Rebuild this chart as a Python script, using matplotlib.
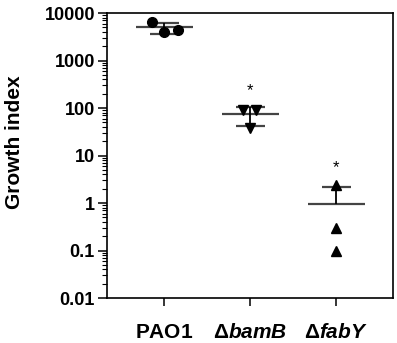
import numpy as np
import matplotlib
matplotlib.use('Agg')
import matplotlib.pyplot as plt

plt.rcParams['font.family'] = ['Liberation Sans', 'DejaVu Sans']
plt.rcParams['font.weight'] = 'bold'
plt.rcParams['mathtext.fontset'] = 'custom'
plt.rcParams['mathtext.rm'] = 'Liberation Sans:bold'
plt.rcParams['mathtext.it'] = 'Liberation Sans:bold:italic'

# data
groups = [r'$\mathrm{PAO1}$', r'$\mathrm{\Delta}\mathit{bamB}$', r'$\mathrm{\Delta}\mathit{fabY}$']
pao1 = [6500, 4000, 4400]
bamB = [92, 90, 38]
fabY = [2.4, 0.30, 0.10]
jitter = [[-0.14, 0.0, 0.16], [-0.09, 0.07, 0.0], [0.0, 0.0, 0.0]]
markers = ['o', 'v', '^']
star_y = [None, 230, 5.5]
ytick_vals = [0.01, 0.1, 1, 10, 100, 1000, 10000]
ytick_labels = ['0.01', '0.1', '1', '10', '100', '1000', '10000']

series = [pao1, bamB, fabY]

fig = plt.figure(figsize=(3.97, 3.43), dpi=100)
ax = fig.add_axes([0.269, 0.131, 0.721, 0.831])

for i, vals in enumerate(series):
    x = i + 1
    vals = np.array(vals)
    m = vals.mean()
    sd = vals.std(ddof=1)
    ax.hlines(m, x - 0.33, x + 0.33, color='#444444', lw=1.6, zorder=2)
    ax.hlines(m + sd, x - 0.17, x + 0.17, color='#444444', lw=1.6, zorder=2)
    ax.vlines(x, m, m + sd, color='black', lw=1.3, zorder=2)
    if m - sd > 0:
        ax.hlines(m - sd, x - 0.17, x + 0.17, color='#444444', lw=1.6, zorder=2)
        ax.vlines(x, m - sd, m, color='black', lw=1.3, zorder=2)
    ax.plot(x + np.array(jitter[i]), vals, linestyle='none', marker=markers[i],
            color='black', ms=7, zorder=3)
    if star_y[i] is not None:
        ax.text(x, star_y[i], '*', ha='center', va='center', fontsize=12,
                fontweight='normal')

ax.set_yscale('log')
ax.set_ylim(0.01, 10000)
ax.set_xlim(0.33, 3.66)
ax.set_xticks([1, 2, 3])
ax.set_xticklabels(groups, fontsize=15)
ax.set_yticks(ytick_vals)
ax.set_yticklabels(ytick_labels, fontsize=13, fontweight='bold')
ax.set_ylabel('Growth index', fontsize=15, fontweight='bold')
ax.yaxis.set_label_coords(-0.29, 0.546)

ax.tick_params(axis='y', which='major', length=6.5, width=1.1, direction='out', pad=2)
ax.tick_params(axis='y', which='minor', length=3.5, width=0.8, direction='out')
ax.tick_params(axis='x', which='major', length=6, width=1.1, direction='out', pad=12)
for s in ax.spines.values():
    s.set_linewidth(1.2)

fig.savefig('out.png', dpi=100)
